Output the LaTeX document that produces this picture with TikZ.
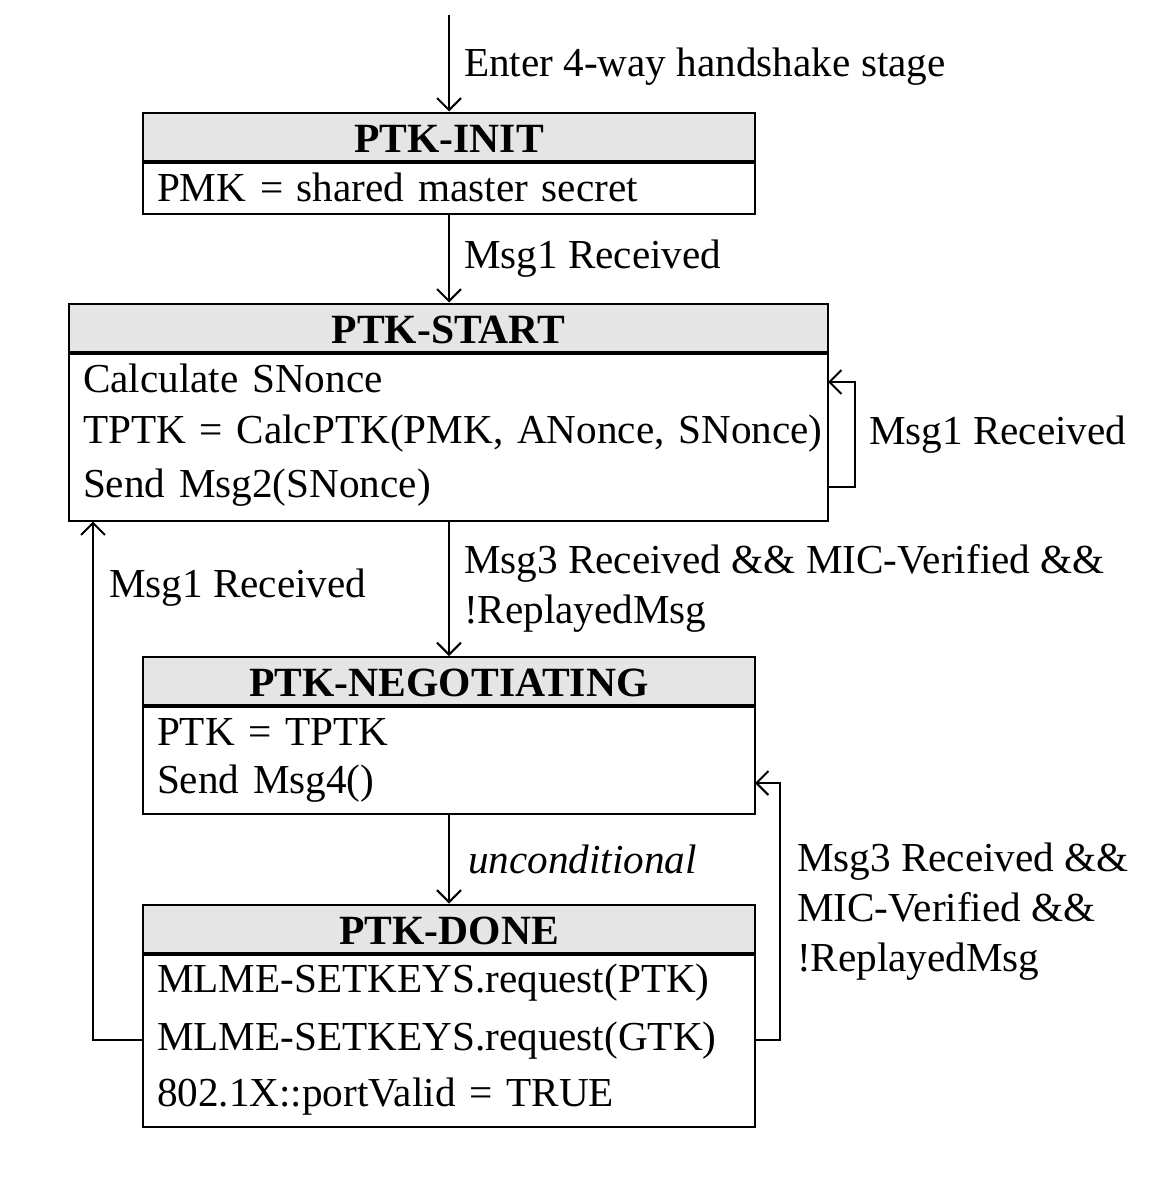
\documentclass[tikz,border=0pt]{standalone}
\usepackage{fontspec}
\setmainfont{Liberation Serif}
\usetikzlibrary{positioning,arrows.meta}
\tikzset{
  state/.style={draw, fill=gray!20, minimum width=#1, minimum height=12pt, inner sep=0pt,
    text height=7.8pt, text depth=0pt, font=\fontsize{10.4pt}{12.5pt}\selectfont\bfseries},
  body/.style={draw, minimum width=#1, inner sep=0pt},
  row/.style={text width=#1, align=left, inner xsep=3.5pt, inner ysep=0pt, outer sep=0pt,
    text height=7.5pt, text depth=2.5pt},
  lbl/.style={anchor=base west, align=left, inner sep=0pt}
}
\begin{document}
\begin{tikzpicture}[x=0.25pt, y=-0.25pt, line width=0.5pt,
    >={Straight Barb[length=3pt,width=6pt]}, font=\fontsize{10.3pt}{12.5pt}\selectfont]
    \useasboundingbox (0,0) rectangle (1152,1188);

    \node[state=153pt] (init) at (449,136.5) {PTK-INIT};
    \node[body=153pt, minimum height=12.75pt, below=0pt of init] (init-body) {};
    \node[row=146pt] (init-l1) at (449,191) {PMK = shared master secret};

    \node[state=189.75pt] (start) at (448.5,327.5) {PTK-START};
    \node[body=189.75pt, minimum height=41.75pt, below=0pt of start] (start-body) {};
    \node[row=182.75pt] (start-l1) at (448.5,382) {Calculate SNonce};
    \node[row=182.75pt] (start-l2) at (448.5,433) {\mbox{TPTK = CalcPTK(PMK, ANonce, SNonce)}};
    \node[row=182.75pt] (start-l3) at (448.5,487) {Send Msg2(SNonce)};

    \node[state=153pt] (neg) at (449,681) {PTK-NEGOTIATING};
    \node[body=153pt, minimum height=26.75pt, below=0pt of neg] (neg-body) {};
    \node[row=146pt] (neg-l1) at (449,735) {PTK = TPTK};
    \node[row=146pt] (neg-l2) at (449,783) {Send Msg4()};

    \node[state=153pt] (done) at (449,928.5) {PTK-DONE};
    \node[body=153pt, minimum height=43pt, below=0pt of done] (done-body) {};
    \node[row=146pt] (done-l1) at (449,982) {MLME-SETKEYS.request(PTK)};
    \node[row=146pt] (done-l2) at (449,1040) {MLME-SETKEYS.request(GTK)};
    \node[row=146pt] (done-l3) at (449,1096) {802.1X::portValid = TRUE};

    \coordinate (entry) at (449,15);
    \draw[->] (entry) -- (init.north);
    \draw[->] (init-body.south) -- (init-body.south |- start.north);
    \draw[->] (start-body.south -| neg.north) -- (neg.north);
    \draw[->] (neg-body.south) -- (done.north);
    \draw[->] (start-l3.east) -- ++(27,0) |- (start-l1.east);
    \draw[->] (done-l2.west) -| ([xshift=6.25pt]start-body.south west);
    \draw[->] (done-l2.east) -- ++(25,0) |- (neg-l2.east);

    \node[lbl] (enter-lbl) at (463,77) {Enter 4-way handshake stage};
    \node[lbl] (msg1-lbl) at (463,268) {Msg1 Received};
    \node[lbl] (loop-lbl) at (868,444) {Msg1 Received};
    \node[lbl] (msg3-lbl) at (463,623) {Msg3 Received \&\& MIC-Verified \&\&\\!ReplayedMsg};
    \node[lbl] (back-lbl) at (108,597) {Msg1 Received};
    \node[lbl] (uncond-lbl) at (467,873) {\itshape unconditional};
    \node[lbl] (retry-lbl) at (796,971) {Msg3 Received \&\&\\MIC-Verified \&\&\\!ReplayedMsg};
\end{tikzpicture}
\end{document}
